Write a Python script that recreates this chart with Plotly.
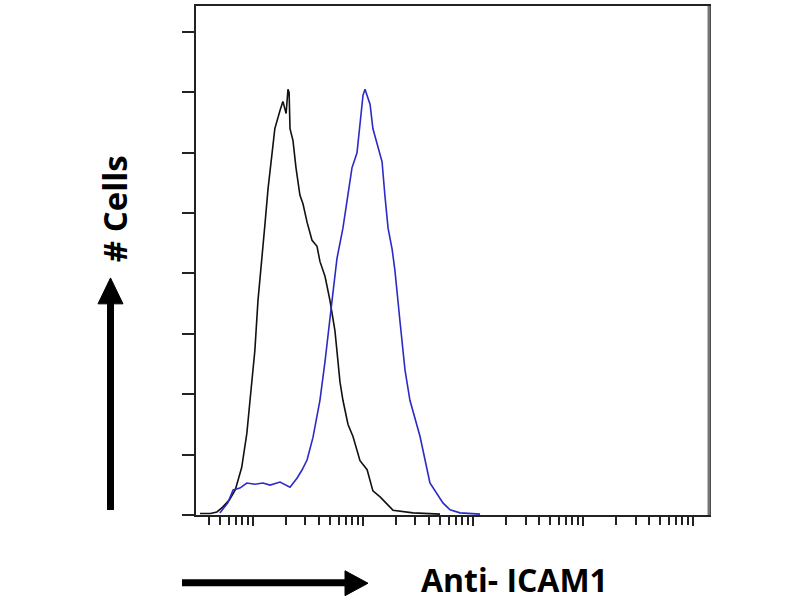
import plotly.graph_objects as go

# Isotype control (black) histogram: fluorescence intensity vs cell count
control_intensity = [3.3, 4.1, 4.7, 5.3, 6.1, 6.9, 7.9, 8.8, 9.4, 10.4, 11.1, 12.1, 12.9, 13.7,
                     14.9, 15.8, 17.6, 18.7, 20.0, 20.8, 21.3, 21.7, 23.1, 24.6, 26.7, 28.5,
                     31.0, 34.4, 38.2, 40.6, 45.2, 50.1, 55.6, 61.8, 65.7, 73.1, 81.1, 93.9,
                     109, 123, 143, 187, 285, 501]
control_count = [0.5, 0.5, 1.0, 2.6, 5, 8.3, 15.8, 27.1, 38, 54.5, 71, 87.5, 97, 108,
                 121, 128, 134, 137, 133, 141, 140, 128, 124, 115, 106, 103,
                 97, 91, 89, 84, 79, 71, 61, 44, 38, 30, 26, 18,
                 15, 8, 6, 1.6, 0.7, 0.3]

# Anti-ICAM1 stained (blue) histogram
icam1_intensity = [5.0, 5.9, 6.6, 7.6, 8.8, 10.4, 12.3, 14.3, 17.6, 21.7, 25.1, 27.9, 31.0,
                   35.1, 40.6, 45.2, 52.3, 58, 65.7, 73.1, 79.4, 88.2, 94, 100, 104.3, 109,
                   116, 123, 134, 149, 158, 169, 184, 195, 217, 241, 267, 330, 406, 533,
                   618, 762, 1159]
icam1_count = [0.7, 4, 8.3, 8.9, 10.6, 10.2, 10.6, 9.9, 10.9, 9.2, 12.2, 14.9, 18.2,
               25.7, 38, 51, 71, 85, 95, 106, 115, 120, 130, 139, 141, 139,
               136, 128, 123, 117, 106, 95, 88, 81, 64, 48, 38, 26, 10.6, 4,
               1.7, 0.7, 0.3]

y_ticks = [0, 20, 40, 60, 80, 100, 120, 140, 160]
x_decades = [10, 100, 1000, 10000, 100000]
x_minor = [k * 10 ** n for n in range(0, 6) for k in range(2, 10) if 3 <= k * 10 ** n <= 140000]

# plot-area geometry in pixels (for decorative arrows)
L, R, T, B = 196, 709, 4, 515
W, H = 800, 600


def px(x):
    return (x - L) / (R - L)


def py(y):
    return (B - y) / (B - T)


fig = go.Figure()
fig.add_trace(go.Scatter(x=control_intensity, y=control_count, mode="lines",
                         line=dict(color="#111111", width=1.6), showlegend=False))
fig.add_trace(go.Scatter(x=icam1_intensity, y=icam1_count, mode="lines",
                         line=dict(color="#2a2ac8", width=1.6), showlegend=False))

shapes = [
    # right border (grey, thicker)
    dict(type="line", xref="paper", yref="paper", x0=1, x1=1, y0=0, y1=1,
         line=dict(color="#777777", width=3)),
    # vertical arrow shaft
    dict(type="line", xref="paper", yref="paper", x0=px(110.5), x1=px(110.5),
         y0=py(510), y1=py(300), line=dict(color="black", width=7)),
    # vertical arrow head
    dict(type="path", xref="paper", yref="paper", fillcolor="black", line=dict(color="black", width=1),
         path=f"M {px(98)} {py(303)} L {px(123)} {py(303)} L {px(110.5)} {py(277)} Z"),
    # horizontal arrow shaft
    dict(type="line", xref="paper", yref="paper", x0=px(182), x1=px(348),
         y0=py(583), y1=py(583), line=dict(color="black", width=7)),
    # horizontal arrow head
    dict(type="path", xref="paper", yref="paper", fillcolor="black", line=dict(color="black", width=1),
         path=f"M {px(345)} {py(571)} L {px(345)} {py(596)} L {px(368)} {py(583.5)} Z"),
]

annotations = [
    dict(text="# Cells", xref="paper", yref="paper", x=px(114), y=py(208),
         showarrow=False, textangle=-90, xanchor="center", yanchor="middle",
         font=dict(family="Open Sans", size=33, color="black", weight="bold")),
    dict(text="Anti- ICAM1", xref="paper", yref="paper", x=px(514), y=py(580),
         showarrow=False, xanchor="center", yanchor="middle",
         font=dict(family="Open Sans", size=32, color="black", weight="bold")),
]

fig.update_layout(
    width=W, height=H,
    margin=dict(l=L, r=W - R, t=T, b=H - B),
    paper_bgcolor="white", plot_bgcolor="white",
    shapes=shapes, annotations=annotations,
    xaxis=dict(type="log", range=[0.482, 5.145], showgrid=False, zeroline=False,
               showline=True, linecolor="#222222", linewidth=2, mirror=True,
               tickmode="array", tickvals=x_decades, showticklabels=False,
               ticks="outside", ticklen=9, tickwidth=2, tickcolor="#222222",
               minor=dict(tickmode="array", tickvals=x_minor, ticks="outside",
                          ticklen=8, tickwidth=1.5, tickcolor="#222222", showgrid=False)),
    yaxis=dict(range=[0, 168.6], showgrid=False, zeroline=False,
               showline=True, linecolor="#222222", linewidth=2, mirror=True,
               tickmode="array", tickvals=y_ticks, showticklabels=False,
               ticks="outside", ticklen=12, tickwidth=2, tickcolor="#222222"),
)

fig.write_html("out.html", config={"displayModeBar": False},
               post_script="document.body.style.margin='0';document.body.style.overflow='hidden';")
